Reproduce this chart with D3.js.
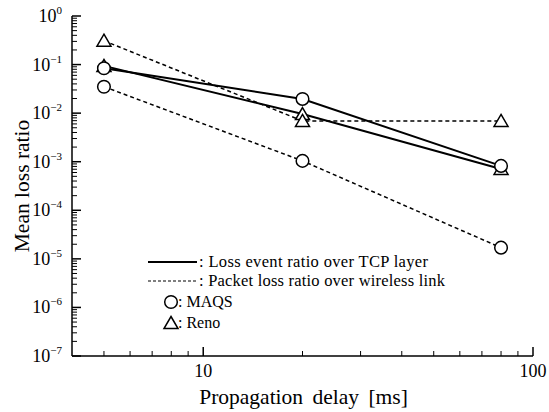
<!doctype html>
<html lang="en">
<head>
  <meta charset="utf-8">
  <title>Mean loss ratio vs propagation delay</title>
  <style>
    body { margin: 0; background: #fff; }
    text { font-family: "Liberation Serif", "Times New Roman", serif; fill: #000; }
  </style>
</head>
<body>
  <svg width="549" height="412"></svg>
  <script src="https://cdn.jsdelivr.net/npm/d3@7"></script>
  <script>
    // propagation delay [ms]
    var delays = [5, 20, 80];
    // loss event ratio over TCP layer (solid)
    var maqsEvent = [0.084, 0.0196, 0.00082];
    var renoEvent = [0.094, 0.0096, 0.00071];
    // packet loss ratio over wireless link (dashed)
    var maqsPacket = [0.035, 0.00104, 0.000017];
    var renoPacket = [0.31, 0.0069, 0.0069];

    var yTicks = [1, 1e-1, 1e-2, 1e-3, 1e-4, 1e-5, 1e-6, 1e-7];
    var yExps = ["0", "-1", "-2", "-3", "-4", "-5", "-6", "-7"];
    var xTicks = [10, 100];

    // triangles first so the circles sit on top, as in the original
    var series = [
      { vals: renoEvent, mark: "triangle", dash: null },
      { vals: renoPacket, mark: "triangle", dash: "4,3" },
      { vals: maqsEvent, mark: "circle", dash: null },
      { vals: maqsPacket, mark: "circle", dash: "4,3" }
    ];

    var svg = d3.select("svg"),
      padL = 72, padR = 533, padT = 16, padB = 356;

    var x = d3.scaleLog().domain([4, 100]).range([padL, padR]);
    var y = d3.scaleLog().domain([1e-7, 1]).range([padB, padT]);

    // minor ticks
    var yMinor = [], xMinor = [];
    for (var e = -7; e < 0; e++) {
      for (var m = 2; m <= 9; m++) yMinor.push(m * Math.pow(10, e));
    }
    for (var m = 5; m <= 9; m++) xMinor.push(m);
    for (var m = 2; m <= 9; m++) xMinor.push(m * 10);

    var ax = svg.append("g").attr("stroke", "#000").attr("stroke-width", 1.5);
    ax.append("line").attr("x1", padL).attr("x2", padL).attr("y1", padT).attr("y2", padB);
    ax.append("line").attr("x1", padL).attr("x2", padR).attr("y1", padB).attr("y2", padB);

    ax.selectAll(".ymaj").data(yTicks).enter().append("line")
      .attr("x1", padL).attr("x2", padL + 9)
      .attr("y1", function (d) { return y(d); }).attr("y2", function (d) { return y(d); });
    ax.selectAll(".ymin").data(yMinor).enter().append("line")
      .attr("stroke-width", 1)
      .attr("x1", padL).attr("x2", padL + 5)
      .attr("y1", function (d) { return y(d); }).attr("y2", function (d) { return y(d); });
    ax.selectAll(".xmaj").data(xTicks).enter().append("line")
      .attr("y1", padB).attr("y2", padB - 9)
      .attr("x1", function (d) { return x(d); }).attr("x2", function (d) { return x(d); });
    ax.selectAll(".xmin").data(xMinor).enter().append("line")
      .attr("stroke-width", 1)
      .attr("y1", padB).attr("y2", padB - 5)
      .attr("x1", function (d) { return x(d); }).attr("x2", function (d) { return x(d); });

    // y tick labels 10^n
    var yl = svg.selectAll(".ylab").data(yTicks).enter().append("text")
      .attr("x", 62).attr("y", function (d) { return y(d) + 6; })
      .attr("text-anchor", "end").style("font-size", "18px");
    yl.append("tspan").text("10");
    yl.append("tspan").attr("dy", -8).style("font-size", "11px")
      .text(function (d, i) { return yExps[i].replace("-", "\u2212"); });

    svg.selectAll(".xlab").data(xTicks).enter().append("text")
      .attr("x", function (d) { return x(d); }).attr("y", padB + 21)
      .attr("text-anchor", "middle").style("font-size", "18px")
      .text(function (d) { return d; });

    svg.append("text").attr("x", (padL + padR) / 2 + 1).attr("y", 404)
      .attr("text-anchor", "middle").style("font-size", "21.5px").style("word-spacing", "4px")
      .text("Propagation delay [ms]");
    svg.append("text")
      .attr("transform", "translate(29," + (padT + padB) / 2 + ") rotate(-90)")
      .attr("text-anchor", "middle").style("font-size", "21.5px")
      .text("Mean loss ratio");

    var line = d3.line()
      .x(function (d, i) { return x(delays[i]); })
      .y(function (d) { return y(d); });

    function drawMark(g, kind, cx, cy) {
      if (kind === "circle") {
        g.append("circle").attr("cx", cx).attr("cy", cy).attr("r", 6.3)
          .attr("fill", "#fff").attr("stroke", "#000").attr("stroke-width", 1.5);
      } else {
        g.append("path")
          .attr("d", "M" + cx + "," + (cy - 6.5) + "L" + (cx + 7) + "," + (cy + 5.5) + "L" + (cx - 7) + "," + (cy + 5.5) + "Z")
          .attr("fill", "#fff").attr("stroke", "#000").attr("stroke-width", 1.5);
      }
    }

    var plot = svg.append("g");
    series.forEach(function (s) {
      plot.append("path").datum(s.vals).attr("d", line)
        .attr("fill", "none").attr("stroke", "#000")
        .attr("stroke-width", s.dash ? 1.5 : 2)
        .attr("stroke-dasharray", s.dash);
    });
    series.forEach(function (s) {
      s.vals.forEach(function (v, i) { drawMark(plot, s.mark, x(delays[i]), y(v)); });
    });

    // legend
    var lg = svg.append("g");
    lg.append("line").attr("x1", 148).attr("x2", 197).attr("y1", 262).attr("y2", 262)
      .attr("stroke", "#000").attr("stroke-width", 2);
    lg.append("line").attr("x1", 148).attr("x2", 197).attr("y1", 281).attr("y2", 281)
      .attr("stroke", "#000").attr("stroke-width", 1.2).attr("stroke-dasharray", "3,2");
    lg.append("text").attr("x", 199).attr("y", 267).style("font-size", "16.5px")
      .attr("textLength", 229).attr("lengthAdjust", "spacing")
      .text(": Loss event ratio over TCP layer");
    lg.append("text").attr("x", 199).attr("y", 286).style("font-size", "16.5px")
      .attr("textLength", 246).attr("lengthAdjust", "spacing")
      .text(": Packet loss ratio over wireless link");
    drawMark(lg, "circle", 171, 302);
    lg.append("text").attr("x", 178).attr("y", 307).style("font-size", "16px").text(": MAQS");
    drawMark(lg, "triangle", 171, 323);
    lg.append("text").attr("x", 178).attr("y", 328).style("font-size", "16px").text(": Reno");
  </script>
</body>
</html>
